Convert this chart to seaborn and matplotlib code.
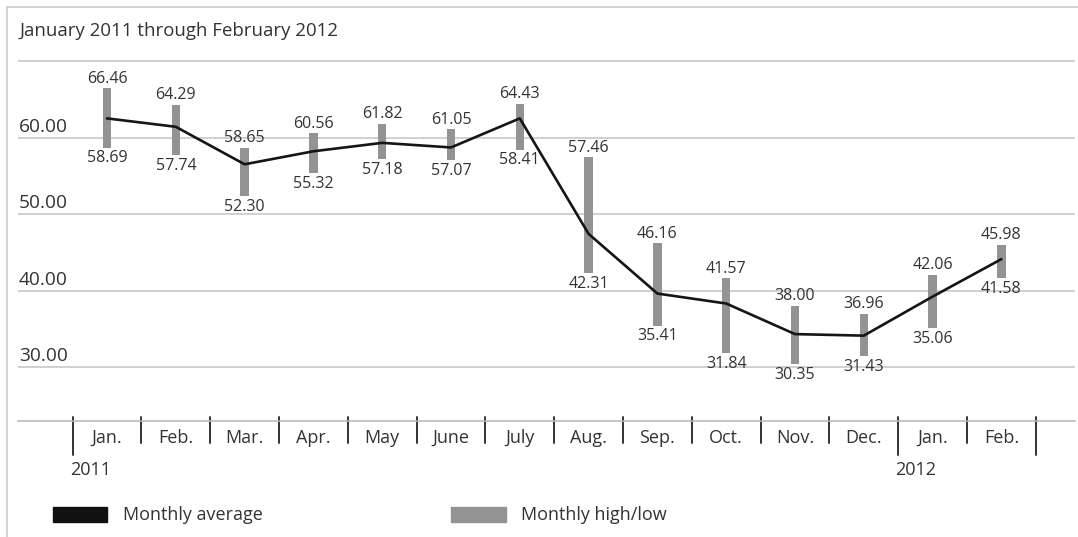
import numpy as np
import pandas as pd
import seaborn as sns
import matplotlib.pyplot as plt
from matplotlib.lines import Line2D
from matplotlib.patches import Rectangle
import matplotlib.transforms as mtransforms

sns.set_style('white')
plt.rcParams['font.family'] = ['Open Sans', 'DejaVu Sans']

months = ['Jan.', 'Feb.', 'Mar.', 'Apr.', 'May', 'June', 'July',
          'Aug.', 'Sep.', 'Oct.', 'Nov.', 'Dec.', 'Jan.', 'Feb.']
years = ['2011', '2012']
year_start = [0, 12]
avg = [62.5, 61.4, 56.5, 58.2, 59.3, 58.7, 62.5,
       47.4, 39.6, 38.3, 34.3, 34.1, 39.2, 44.1]
high = [66.46, 64.29, 58.65, 60.56, 61.82, 61.05, 64.43,
        57.46, 46.16, 41.57, 38.00, 36.96, 42.06, 45.98]
low = [58.69, 57.74, 52.30, 55.32, 57.18, 57.07, 58.41,
       42.31, 35.41, 31.84, 30.35, 31.43, 35.06, 41.58]
yticks = [30, 40, 50, 60]
title = 'January 2011 through February 2012'

TXT = '#333333'
GRID = '#c4c4c4'
BAR = '#939393'
LINE = '#151515'

df = pd.DataFrame({'idx': np.arange(len(months)), 'avg': avg,
                   'high': high, 'low': low})

fig = plt.figure(figsize=(10.78, 5.37), dpi=100)
ax = fig.add_axes([18 / 1078, 116.3 / 537, 1057 / 1078, 370.7 / 537])
ax.set_xlim(-1.294, 14.07)
ax.set_ylim(22.98, 71.44)

# gridlines
for g in [30, 40, 50, 60, 70]:
    ax.axhline(g, color=GRID, lw=1.1, zorder=0)

# high/low bars
ax.bar(df['idx'], df['high'] - df['low'], bottom=df['low'], width=0.12,
       color=BAR, zorder=2, linewidth=0)

# monthly average line
sns.lineplot(data=df, x='idx', y='avg', color=LINE, lw=1.9, ax=ax, zorder=3)

# value labels
for i, (h, l) in enumerate(zip(high, low)):
    ax.annotate(f'{h:.2f}', (i, h), xytext=(0, 1.0), textcoords='offset points',
                ha='center', va='bottom', fontsize=11.5, color=TXT)
    ax.annotate(f'{l:.2f}', (i, l), xytext=(0, -2.0), textcoords='offset points',
                ha='center', va='top', fontsize=11.5, color=TXT)

# y labels sitting on gridlines
ytr = mtransforms.blended_transform_factory(ax.transAxes, ax.transData)
for t in yticks:
    ax.annotate(f'{t:.2f}', (0, t), xycoords=ytr, xytext=(0.5, 4),
                textcoords='offset points', ha='left', va='baseline',
                fontsize=13.8, color=TXT)

ax.set_xticks([])
ax.set_yticks([])
ax.set_xlabel('')
ax.set_ylabel('')
for s in ['top', 'left', 'right']:
    ax.spines[s].set_visible(False)
ax.spines['bottom'].set_color('#b5b5b5')
ax.spines['bottom'].set_linewidth(1.1)

# month separators and labels
xtr = mtransforms.blended_transform_factory(ax.transData, ax.transAxes)
for k in range(len(months) + 1):
    x = k - 0.5
    long_tick = k in year_start or k == len(months)
    ax.add_line(Line2D([x, x], [0.011, -0.0925 if long_tick else -0.060],
                       transform=xtr, color='#333333', lw=1.4, clip_on=False))
for i, m in enumerate(months):
    ax.text(i, -0.047, m, transform=xtr, ha='center', va='center',
            fontsize=13, color=TXT)
for y, k in zip(years, year_start):
    ax.text(k - 0.54, -0.133, y, transform=xtr, ha='left', va='center',
            fontsize=13, color=TXT)

# title
fig.text(19 / 1078, 1 - 31 / 537, title, ha='left', va='center',
         fontsize=13.4, color=TXT)

# legend
fig.add_artist(Rectangle((53 / 1078, 15 / 537), 54 / 1078, 15 / 537,
                         transform=fig.transFigure, color='#111111'))
fig.text(123 / 1078, 22 / 537, 'Monthly average', ha='left', va='center',
         fontsize=13, color=TXT)
fig.add_artist(Rectangle((451 / 1078, 15 / 537), 55 / 1078, 15 / 537,
                         transform=fig.transFigure, color=BAR))
fig.text(521 / 1078, 22 / 537, 'Monthly high/low', ha='left', va='center',
         fontsize=13, color=TXT)

# outer frame (top and left edges)
fig.add_artist(Line2D([7 / 1078, 7 / 1078], [0, 1 - 7 / 537],
                      transform=fig.transFigure, color='#c8c8c8', lw=1.1))
fig.add_artist(Line2D([7 / 1078, 1], [1 - 7 / 537, 1 - 7 / 537],
                      transform=fig.transFigure, color='#c8c8c8', lw=1.1))

fig.savefig('out.png', dpi=100)
